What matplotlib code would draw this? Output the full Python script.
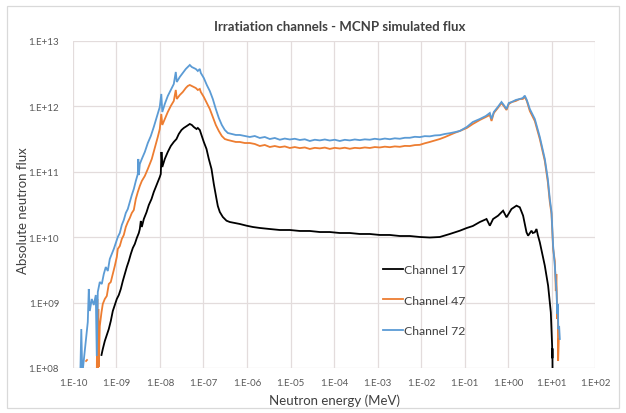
import numpy as np
import matplotlib
matplotlib.use("Agg")
import matplotlib.pyplot as plt
from matplotlib.ticker import FixedLocator, FuncFormatter, NullLocator
from matplotlib.patches import Rectangle

plt.rcParams['font.family'] = ['Lato', 'DejaVu Sans']

# Spectra: log10 of neutron energy (MeV) and log10 of absolute flux
ch17_log_e = [-9.345, -9.315, -9.269, -9.223, -9.177, -9.131, -9.085, -9.039, -8.993, -8.947,
              -8.901, -8.855, -8.809, -8.763, -8.717, -8.671, -8.625, -8.579, -8.533, -8.487,
              -8.464, -8.441, -8.418, -8.372, -8.310, -8.257, -8.195, -8.143, -8.097, -8.051,
              -8.005, -7.982, -7.966, -7.947, -7.890, -7.821, -7.752, -7.683, -7.621, -7.568,
              -7.506, -7.453, -7.384, -7.315, -7.269, -7.223, -7.161, -7.131, -7.085, -7.039,
              -6.993, -6.931, -6.878, -6.816, -6.763, -6.701, -6.671, -6.625, -6.556, -6.471,
              -6.395, -6.280, -6.166, -6.011, -5.867, -5.706, -5.476, -5.246, -5.016, -4.786,
              -4.556, -4.326, -4.097, -3.867, -3.637, -3.407, -3.177, -2.947, -2.717, -2.487,
              -2.257, -2.028, -1.798, -1.568, -1.338, -1.108, -0.947, -0.809, -0.648, -0.494,
              -0.418, -0.343, -0.228, -0.150, -0.113, -0.034, 0.080, 0.195, 0.271, 0.347,
              0.425, 0.462, 0.540, 0.570, 0.616, 0.655, 0.685, 0.731, 0.846, 0.922,
              0.984, 1.014, 1.018, 1.021, 1.024]
ch17_log_flux = [8.199, 8.290, 8.412, 8.504, 8.596, 8.719, 8.871, 8.963, 9.055, 9.116,
                 9.208, 9.330, 9.437, 9.544, 9.636, 9.743, 9.835, 9.896, 9.988, 10.064,
                 10.125, 10.248, 10.156, 10.278, 10.381, 10.492, 10.584, 10.691, 10.767, 10.844,
                 10.920, 10.966, 11.303, 11.073, 11.196, 11.303, 11.394, 11.456, 11.501, 11.578,
                 11.639, 11.670, 11.700, 11.731, 11.716, 11.685, 11.654, 11.670, 11.639, 11.547,
                 11.456, 11.349, 11.196, 11.043, 10.813, 10.584, 10.477, 10.385, 10.309, 10.252,
                 10.232, 10.217, 10.202, 10.176, 10.156, 10.141, 10.125, 10.110, 10.110, 10.095,
                 10.095, 10.079, 10.079, 10.064, 10.064, 10.049, 10.049, 10.034, 10.034, 10.018,
                 10.018, 10.003, 9.995, 10.003, 10.049, 10.099, 10.141, 10.171, 10.232, 10.278,
                 10.176, 10.278, 10.329, 10.381, 10.405, 10.304, 10.431, 10.482, 10.457, 10.329,
                 10.075, 10.023, 10.099, 10.064, 10.075, 10.125, 10.034, 9.922, 9.564, 9.258,
                 8.851, 8.341, 8.150, 8.300, 7.900]

ch47_log_e = [-9.699, -9.678, np.nan,
              -9.453, -9.441, -9.430, -9.418, -9.407, -9.384, -9.345, -9.315, -9.269, -9.223,
              -9.177, -9.131, -9.085, -9.039, -8.993, -8.970, -8.924, -8.878, -8.832, -8.786,
              -8.740, -8.694, -8.648, -8.602, -8.556, -8.510, -8.464, -8.418, -8.349, -8.280,
              -8.234, -8.189, -8.120, -8.051, -8.005, -7.970, -7.947, -7.890, -7.821, -7.752,
              -7.683, -7.637, -7.614, -7.545, -7.476, -7.407, -7.361, -7.315, -7.269, -7.223,
              -7.177, -7.131, -7.085, -7.062, -6.993, -6.924, -6.855, -6.786, -6.717, -6.648,
              -6.579, -6.510, -6.441, -6.349, -6.257, -6.166, -6.051,
              -5.936, -5.821, -5.706, -5.591, -5.476, -5.361, -5.246, -5.131, -5.016, -4.901,
              -4.786, -4.671, -4.556, -4.441, -4.326, -4.211, -4.097, -3.982, -3.867, -3.752,
              -3.637, -3.522, -3.407, -3.292, -3.177, -3.062, -2.947, -2.832, -2.717, -2.602,
              -2.487, -2.372, -2.257, -2.142, -2.028, -1.913, -1.798, -1.683, -1.568, -1.453,
              -1.338, -1.223, -1.108, -0.947, -0.809, -0.648, -0.510, -0.418, -0.379, -0.326,
              -0.234, -0.150, -0.097, -0.034, 0.018, 0.087, 0.179, 0.271, 0.340, 0.386,
              0.432, 0.501, 0.616, 0.731, 0.846, 0.915, 0.961, 1.000, 1.037, 1.076,
              1.099, 1.111, 1.133, 1.145, 1.152, 1.168]
ch47_log_flux = [8.107, 8.122, np.nan,
                 7.900, 9.055, 7.900, 8.902, 8.015, 8.642, 8.851, 8.979, 9.055, 9.101,
                 9.284, 9.315, 9.437, 9.560, 9.697, 9.820, 9.865, 9.972, 10.034, 10.156,
                 10.232, 10.294, 10.370, 10.416, 10.584, 10.691, 10.783, 10.859, 10.936, 11.043,
                 11.119, 11.196, 11.364, 11.532, 11.654, 11.884, 11.716, 11.807, 11.914, 12.006,
                 12.083, 12.251, 12.113, 12.174, 12.220, 12.281, 12.312, 12.327, 12.312, 12.297,
                 12.281, 12.251, 12.266, 12.220, 12.144, 12.052, 11.960, 11.838, 11.716, 11.624,
                 11.547, 11.501, 11.486, 11.471, 11.456, 11.456, 11.440,
                 11.440, 11.425, 11.394, 11.410, 11.379, 11.394, 11.376, 11.388, 11.364, 11.378,
                 11.362, 11.372, 11.349, 11.366, 11.358, 11.370, 11.350, 11.366, 11.356, 11.368,
                 11.352, 11.366, 11.360, 11.372, 11.364, 11.378, 11.372, 11.384, 11.376, 11.388,
                 11.382, 11.396, 11.394, 11.408, 11.412, 11.436, 11.456, 11.478, 11.501, 11.530,
                 11.563, 11.596, 11.624, 11.670, 11.731, 11.792, 11.838, 11.868, 11.777, 11.899,
                 11.976, 12.052, 12.006, 11.945, 12.037, 12.067, 12.083, 12.113, 12.113, 12.144,
                 12.083, 11.930, 11.777, 11.501, 11.165, 10.844, 10.538, 10.355, 9.820, 9.636,
                 9.177, 9.437, 8.749, 8.979, 8.107, 8.443]

ch72_log_e = [-9.832, -9.809, -9.786, -9.660, -9.637, -9.614, -9.568, -9.522, -9.476, -9.453,
              -9.430, -9.384, -9.338, -9.292, -9.246, -9.200, -9.154, -9.108, -9.062, -9.016,
              -8.970, -8.924, -8.878, -8.832, -8.786, -8.740, -8.694, -8.648, -8.602, -8.556,
              -8.510, -8.499, -8.487, -8.464, -8.418, -8.349, -8.280, -8.211, -8.143, -8.074,
              -8.005, -7.970, -7.947, -7.890, -7.821, -7.752, -7.683, -7.637, -7.614, -7.545,
              -7.476, -7.407, -7.361, -7.315, -7.269, -7.223, -7.177, -7.131, -7.085, -7.062,
              -6.993, -6.924, -6.855, -6.786, -6.717, -6.648, -6.579, -6.510, -6.441, -6.349,
              -6.257, -6.166, -6.051,
              -5.936, -5.821, -5.706, -5.591, -5.476, -5.361, -5.246, -5.131, -5.016, -4.901,
              -4.786, -4.671, -4.556, -4.441, -4.326, -4.211, -4.097, -3.982, -3.867, -3.752,
              -3.637, -3.522, -3.407, -3.292, -3.177, -3.062, -2.947, -2.832, -2.717, -2.602,
              -2.487, -2.372, -2.257, -2.142, -2.028, -1.913, -1.798, -1.683, -1.568, -1.453,
              -1.338, -1.223, -1.108, -0.947, -0.809, -0.648, -0.510, -0.418, -0.379, -0.326,
              -0.234, -0.150, -0.097, -0.034, 0.018, 0.087, 0.179, 0.271, 0.340, 0.386,
              0.432, 0.501, 0.616, 0.731, 0.846, 0.915, 0.961, 1.000, 1.037, 1.076,
              1.116, 1.133, 1.145, 1.156, 1.175, 1.191]
ch72_log_flux = [7.900, 8.596, 7.900, 8.703, 9.208, 8.871, 9.055, 8.963, 9.116, 8.183,
                 9.162, 9.315, 9.284, 9.437, 9.544, 9.483, 9.667, 9.743, 9.820, 9.911,
                 10.003, 10.064, 10.186, 10.263, 10.370, 10.431, 10.538, 10.645, 10.737, 10.859,
                 10.966, 11.196, 10.950, 11.119, 11.196, 11.303, 11.440, 11.547, 11.685, 11.838,
                 11.991, 12.190, 11.914, 12.037, 12.159, 12.251, 12.342, 12.526, 12.373, 12.450,
                 12.511, 12.572, 12.602, 12.633, 12.602, 12.587, 12.572, 12.541, 12.572, 12.511,
                 12.434, 12.327, 12.235, 12.113, 11.960, 11.823, 11.716, 11.639, 11.593, 11.578,
                 11.563, 11.563, 11.547,
                 11.532, 11.547, 11.517, 11.532, 11.501, 11.517, 11.490, 11.508, 11.494, 11.505,
                 11.486, 11.497, 11.471, 11.490, 11.480, 11.494, 11.478, 11.490, 11.471, 11.489,
                 11.480, 11.494, 11.484, 11.496, 11.490, 11.505, 11.494, 11.508, 11.498, 11.512,
                 11.505, 11.520, 11.520, 11.535, 11.530, 11.545, 11.542, 11.556, 11.560, 11.578,
                 11.590, 11.606, 11.624, 11.685, 11.761, 11.807, 11.853, 11.899, 11.807, 11.914,
                 11.991, 12.067, 12.021, 11.960, 12.052, 12.067, 12.098, 12.113, 12.128, 12.164,
                 12.098, 11.960, 11.807, 11.532, 11.196, 10.890, 10.584, 10.385, 9.865, 9.560,
                 9.162, 8.826, 8.979, 8.596, 8.642, 8.443]

series_labels = ["Channel 17", "Channel 47", "Channel 72"]
series_colors = ["#000000", "#ED7D31", "#5B9BD5"]

x_tick_exponents = list(range(-10, 3))
y_tick_exponents = list(range(8, 14))

fig = plt.figure(figsize=(6.26, 4.14), dpi=100)
ax = fig.add_axes([0.1166, 0.1087, 0.8339, 0.7899])

series = [(ch17_log_e, ch17_log_flux), (ch47_log_e, ch47_log_flux), (ch72_log_e, ch72_log_flux)]
handles = []
for (le, lf), lab, col in zip(series, series_labels, series_colors):
    e = np.power(10.0, np.array(le, dtype=float))
    f = np.power(10.0, np.array(lf, dtype=float))
    h, = ax.plot(e, f, color=col, lw=1.3, label=lab, solid_joinstyle='miter')
    handles.append(h)

ax.set_xscale('log')
ax.set_yscale('log')
ax.set_xlim(1e-10, 1e2)
ax.set_ylim(1e8, 1e13)

ax.xaxis.set_major_locator(FixedLocator([10.0 ** k for k in x_tick_exponents]))
ax.yaxis.set_major_locator(FixedLocator([10.0 ** k for k in y_tick_exponents]))
ax.xaxis.set_minor_locator(NullLocator())
ax.yaxis.set_minor_locator(NullLocator())
fmt = FuncFormatter(lambda v, p: "1.E{:+03d}".format(int(round(np.log10(v)))))
ax.xaxis.set_major_formatter(fmt)
ax.yaxis.set_major_formatter(fmt)
ax.tick_params(axis='both', length=0, labelsize=7, colors='#595959')
ax.tick_params(axis='x', pad=7)
ax.tick_params(axis='y', pad=10)

ax.grid(True, which='major', color='#e3dcdc', lw=0.9)
ax.set_axisbelow(True)
for s in ax.spines.values():
    s.set_visible(False)

ax.set_xlabel("Neutron energy (MeV)", fontsize=9.5, color='#404040', labelpad=5)
ax.set_ylabel("Absolute neutron flux", fontsize=9.5, color='#404040')
ax.yaxis.set_label_coords(-0.084, 0.485)
fig.text(0.543, 1 - 27 / 414, "Irratiation channels - MCNP simulated flux",
         fontsize=9.5, fontweight='bold', color='#404040', ha='center', va='center')

leg = ax.legend(handles=handles, loc='upper left', bbox_to_anchor=(383 / 626, 1 - 265 / 414),
                bbox_transform=fig.transFigure, frameon=False, fontsize=8.8,
                handlelength=1.6, handletextpad=0.15, labelspacing=1.6,
                borderpad=0, borderaxespad=0)
for t in leg.get_texts():
    t.set_color('#404040')

fig.patches.append(Rectangle((7 / 626, 5 / 414), 612 / 626, 402 / 414, transform=fig.transFigure,
                             fill=False, edgecolor='#d9d9d9', lw=0.9))

fig.savefig("out.png", dpi=100)
